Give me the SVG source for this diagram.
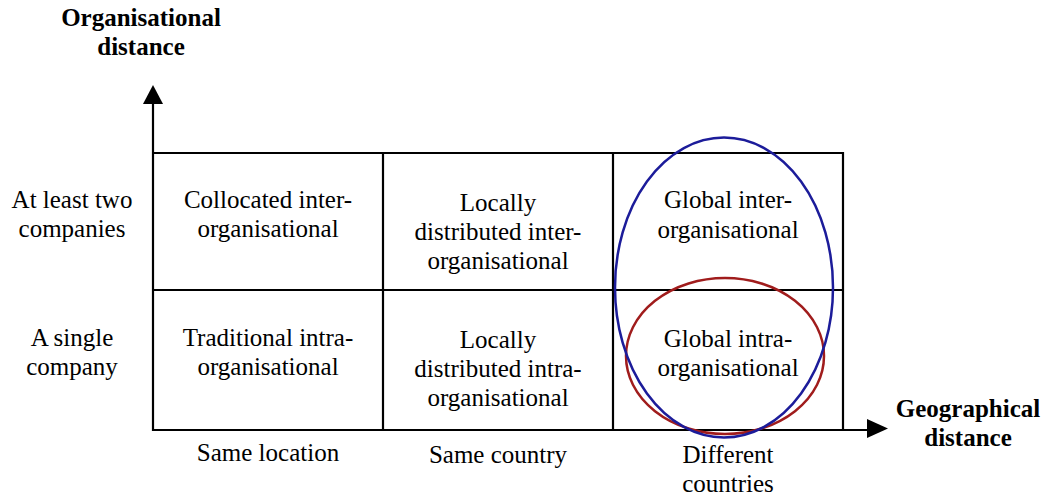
<svg xmlns="http://www.w3.org/2000/svg" width="1047" height="497" viewBox="0 0 1047 497">
<style>
.t{font-size:25px;fill:#000;text-anchor:middle}
.b{font-weight:bold}
.ln{stroke:#000;stroke-width:2.2;fill:none}
</style>
<rect width="1047" height="497" fill="#fff"/>
<g id="connectors">
<line class="ln" x1="153" y1="431" x2="153" y2="100"/>
<path d="M143,104 L153,85 L163,104 Z" fill="#000"/>
<line class="ln" x1="152" y1="430" x2="870" y2="430"/>
<path d="M867,419 L888,428.5 L867,438 Z" fill="#000"/>
</g>
<g id="grid">
<line class="ln" x1="152" y1="153" x2="843" y2="153"/>
<line class="ln" x1="152" y1="290" x2="843" y2="290"/>
<line class="ln" x1="383" y1="153" x2="383" y2="430"/>
<line class="ln" x1="613" y1="153" x2="613" y2="430"/>
<line class="ln" x1="843" y1="152" x2="843" y2="430"/>
</g>
<g font-family="Liberation Serif">
<g id="y-axis-title">
<text class="t b" x="141" y="26">Organisational</text>
<text class="t b" x="141" y="55">distance</text>
</g>
<g id="x-axis-title">
<text class="t b" x="968" y="417">Geographical</text>
<text class="t b" x="968" y="446">distance</text>
</g>
<g id="row-labels">
<text class="t" x="72" y="208">At least two</text>
<text class="t" x="72" y="237">companies</text>
<text class="t" x="72" y="346">A single</text>
<text class="t" x="72" y="375">company</text>
</g>
<g id="col-labels">
<text class="t" x="268" y="461">Same location</text>
<text class="t" x="498" y="463">Same country</text>
<text class="t" x="728" y="463">Different</text>
<text class="t" x="728" y="492">countries</text>
</g>
<g id="cell-collocated">
<text class="t" x="268" y="208">Collocated inter-</text>
<text class="t" x="268" y="237">organisational</text>
</g>
<g id="cell-local-inter">
<text class="t" x="498" y="211">Locally</text>
<text class="t" x="498" y="240">distributed inter-</text>
<text class="t" x="498" y="269">organisational</text>
</g>
<g id="cell-global-inter">
<text class="t" x="728" y="208">Global inter-</text>
<text class="t" x="728" y="238">organisational</text>
</g>
<g id="cell-traditional">
<text class="t" x="268" y="346">Traditional intra-</text>
<text class="t" x="268" y="375">organisational</text>
</g>
<g id="cell-local-intra">
<text class="t" x="498" y="348">Locally</text>
<text class="t" x="498" y="377">distributed intra-</text>
<text class="t" x="498" y="406">organisational</text>
</g>
<g id="cell-global-intra">
<text class="t" x="728" y="347">Global intra-</text>
<text class="t" x="728" y="376">organisational</text>
</g>
</g>
<g id="ellipses">
<ellipse cx="725" cy="356" rx="99" ry="78" fill="none" stroke="#a01c1c" stroke-width="2.5"/>
<ellipse cx="724" cy="287.5" rx="109" ry="150" fill="none" stroke="#1c1c9a" stroke-width="2.5"/>
</g>
</svg>
